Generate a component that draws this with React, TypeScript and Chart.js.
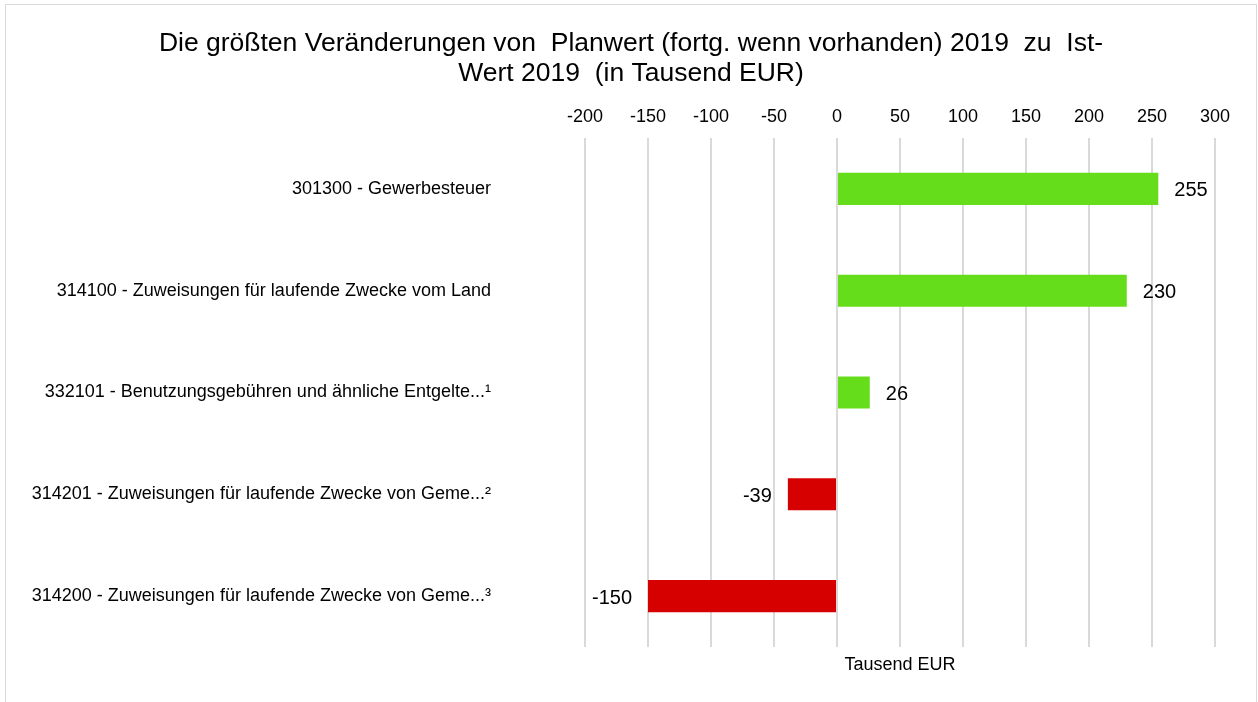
import React, { useEffect, useRef } from "react";
import { Chart, registerables } from "chart.js";

Chart.register(...registerables);

const titleLines = [
  "Die größten Veränderungen von  Planwert (fortg. wenn vorhanden) 2019  zu  Ist-",
  "Wert 2019  (in Tausend EUR)",
];
const categories = [
  "301300 - Gewerbesteuer",
  "314100 - Zuweisungen für laufende Zwecke vom Land",
  "332101 - Benutzungsgebühren und ähnliche Entgelte...¹",
  "314201 - Zuweisungen für laufende Zwecke von Geme...²",
  "314200 - Zuweisungen für laufende Zwecke von Geme...³",
];
const values = [255, 230, 26, -39, -150];
const axisMin = -200;
const axisMax = 300;
const axisStep = 50;
const axisTitle = "Tausend EUR";

const GREEN = "#66DD1A";
const RED = "#D60000";
const FONT = "'Liberation Sans', Arial, sans-serif";
const W = 1250;
const H = 697;

const valueLabels = {
  id: "valueLabels",
  afterDatasetsDraw(chart: any) {
    const ctx = chart.ctx;
    const meta = chart.getDatasetMeta(0);
    ctx.save();
    ctx.font = `20px ${FONT}`;
    ctx.fillStyle = "#000";
    ctx.textBaseline = "middle";
    meta.data.forEach((el: any, i: number) => {
      const v = values[i];
      if (v >= 0) {
        ctx.textAlign = "left";
        ctx.fillText(String(v), el.x + 16, el.y + 2);
      } else {
        ctx.textAlign = "right";
        ctx.fillText(String(v), el.x - 16, el.y + 2);
      }
    });
    ctx.restore();
  },
};

export default function App() {
  const ref = useRef<HTMLCanvasElement>(null);
  useEffect(() => {
    if (!ref.current) return;
    const chart = new Chart(ref.current, {
      type: "bar",
      data: {
        labels: categories,
        datasets: [
          {
            data: values,
            backgroundColor: values.map((v) => (v >= 0 ? GREEN : RED)),
            borderWidth: 0,
            barPercentage: 0.315,
            categoryPercentage: 1,
          },
        ],
      },
      options: {
        indexAxis: "y",
        animation: false,
        responsive: false,
        devicePixelRatio: 1,
        layout: { padding: 0 },
        plugins: {
          legend: { display: false },
          tooltip: { enabled: false },
          title: {
            display: true,
            text: titleLines,
            color: "#000",
            font: { family: FONT, size: 26.5, weight: "normal", lineHeight: "30px" },
            padding: { top: 24, bottom: 0 },
          },
        },
        scales: {
          x: {
            type: "linear",
            position: "top",
            min: axisMin,
            max: axisMax,
            afterFit: (s: any) => {
              s.height = 49;
            },
            ticks: {
              stepSize: axisStep,
              color: "#000",
              font: { family: FONT, size: 18 },
              padding: 10,
            },
            grid: {
              color: "#d9d9d9",
              lineWidth: 2,
              drawTicks: false,
            },
            border: { display: false },
          },
          x2: {
            type: "linear",
            position: "bottom",
            afterFit: (s: any) => {
              s.height = 55;
              s.paddingLeft = 0;
              s.paddingRight = 0;
            },
            ticks: { display: false },
            grid: { display: false },
            border: { display: false },
            title: {
              display: true,
              text: axisTitle,
              color: "#000",
              font: { family: FONT, size: 18 },
              padding: { top: 0, bottom: 26 },
            },
          },
          y: {
            afterFit: (s: any) => {
              s.width = 579;
              s.paddingTop = 0;
              s.paddingBottom = 0;
            },
            ticks: {
              color: "#000",
              font: { family: FONT, size: 18 },
              padding: 86,
            },
            grid: { display: false },
            border: { display: false },
          },
          yRight: {
            type: "category",
            position: "right",
            afterFit: (s: any) => {
              s.width = 41;
              s.paddingTop = 0;
              s.paddingBottom = 0;
            },
            ticks: { display: false },
            grid: { display: false },
            border: { display: false },
          },
        },
      },
      plugins: [valueLabels],
    });
    return () => chart.destroy();
  }, []);

  return (
    <div
      style={{
        position: "absolute",
        left: 5,
        top: 4,
        width: 1252,
        height: 720,
        border: "1px solid #d9d9d9",
        boxSizing: "border-box",
        background: "#fff",
      }}
    >
      <canvas
        ref={ref}
        width={W}
        height={H}
        style={{ display: "block", width: W, height: H }}
      />
    </div>
  );
}
